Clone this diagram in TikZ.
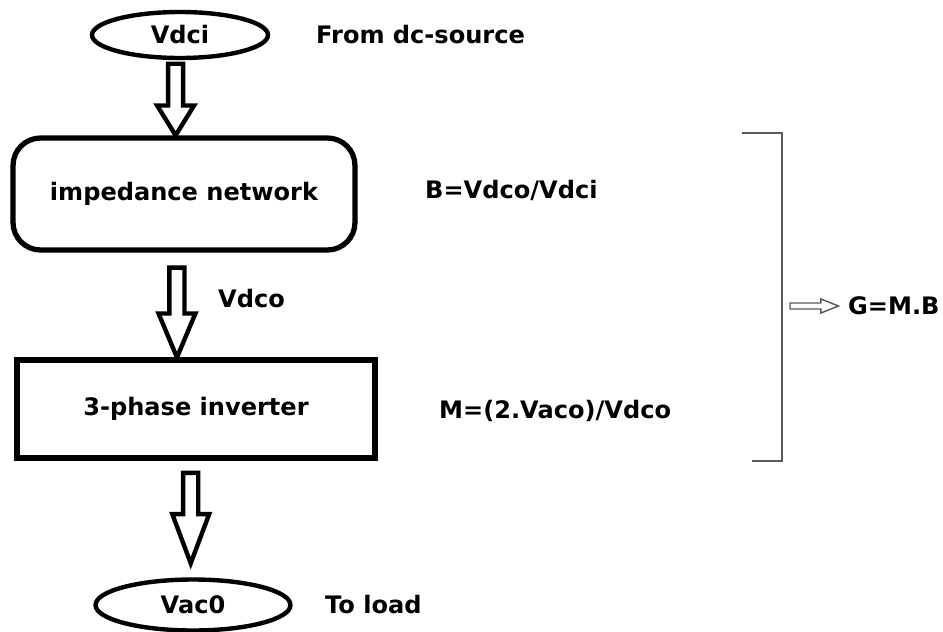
\documentclass[tikz,border=0pt]{standalone}
\usepackage{fontspec}
\setmainfont{DejaVu Sans}
\usetikzlibrary{shapes.geometric,calc}
\newcommand\blockarrow[3]{%
  \draw[blockline] let \p1=(#1), \p2=(#2) in
    (\x1-4.3pt,\y1) -- (\x1-4.3pt,\y2+#3) -- (\x1-10.5pt,\y2+#3) -- (\x1,\y2)
    -- (\x1+10.5pt,\y2+#3) -- (\x1+4.3pt,\y2+#3) -- (\x1+4.3pt,\y1) -- cycle;}
\begin{document}
\begin{tikzpicture}
    [x=0.02cm, y=-0.02cm,
     every node/.style = {font=\fontsize{13.7}{16}\selectfont\bfseries},
     oval/.style = {ellipse, draw, line width=2.5pt},
     blockline/.style = {draw, line width=2.5pt, line join=miter},
     txt/.style = {anchor=west},
     bracket/.style = {draw=black!65, line width=0.8pt}]
    \useasboundingbox (0,0) rectangle (943,632);
    \node[oval, minimum width=3.52cm, minimum height=0.92cm] (vdci) at (180,35) {Vdci};
    \node[draw, line width=3pt, rounded corners=0.55cm, minimum width=6.84cm, minimum height=2.24cm] (imp) at (184,194) {impedance network};
    \node[draw, line width=3pt, minimum width=7.16cm, minimum height=1.96cm] (inv) at (196,409) {3-phase inverter};
    \node[oval, minimum width=3.9cm, minimum height=1.02cm] (vaco) at (193,605) {Vac0};
    \node[txt] (src) at (310,35) {From dc-source};
    \node[txt] (vdco) at (212,299) {Vdco};
    \node[txt] (bval) at (419,190) {B=Vdco/Vdci};
    \node[txt] (mval) at (433,411) {M=(2.Vaco)/Vdco};
    \node[txt] (load) at (319,605) {To load};
    \node[txt] (gmb) at (842,306) {G=M.B};
    \blockarrow{[xshift=-2.5pt,yshift=-2pt]vdci.south}{imp.north}{17pt}
    \blockarrow{[xshift=-4pt,yshift=-8.5pt]imp.south}{inv.north}{25pt}
    \blockarrow{[xshift=-3pt,yshift=-7pt]inv.south}{[yshift=8pt]vaco.north}{28pt}
    \coordinate (brtop) at (782,133);
    \coordinate (brbot) at (782,461);
    \coordinate (brmid) at (790,306);
    \draw[bracket] (742,133) -- (brtop) -- (brbot) -- (752,461);
    \draw[bracket] let \p1=(brmid), \p2=(gmb.west) in
      (\x1,\y1+1.7pt) -- (\x2-12pt,\y1+1.7pt) -- (\x2-12pt,\y1+4pt) -- (\x2-2pt,\y1)
      -- (\x2-12pt,\y1-4pt) -- (\x2-12pt,\y1-1.7pt) -- (\x1,\y1-1.7pt) -- cycle;
\end{tikzpicture}
\end{document}
